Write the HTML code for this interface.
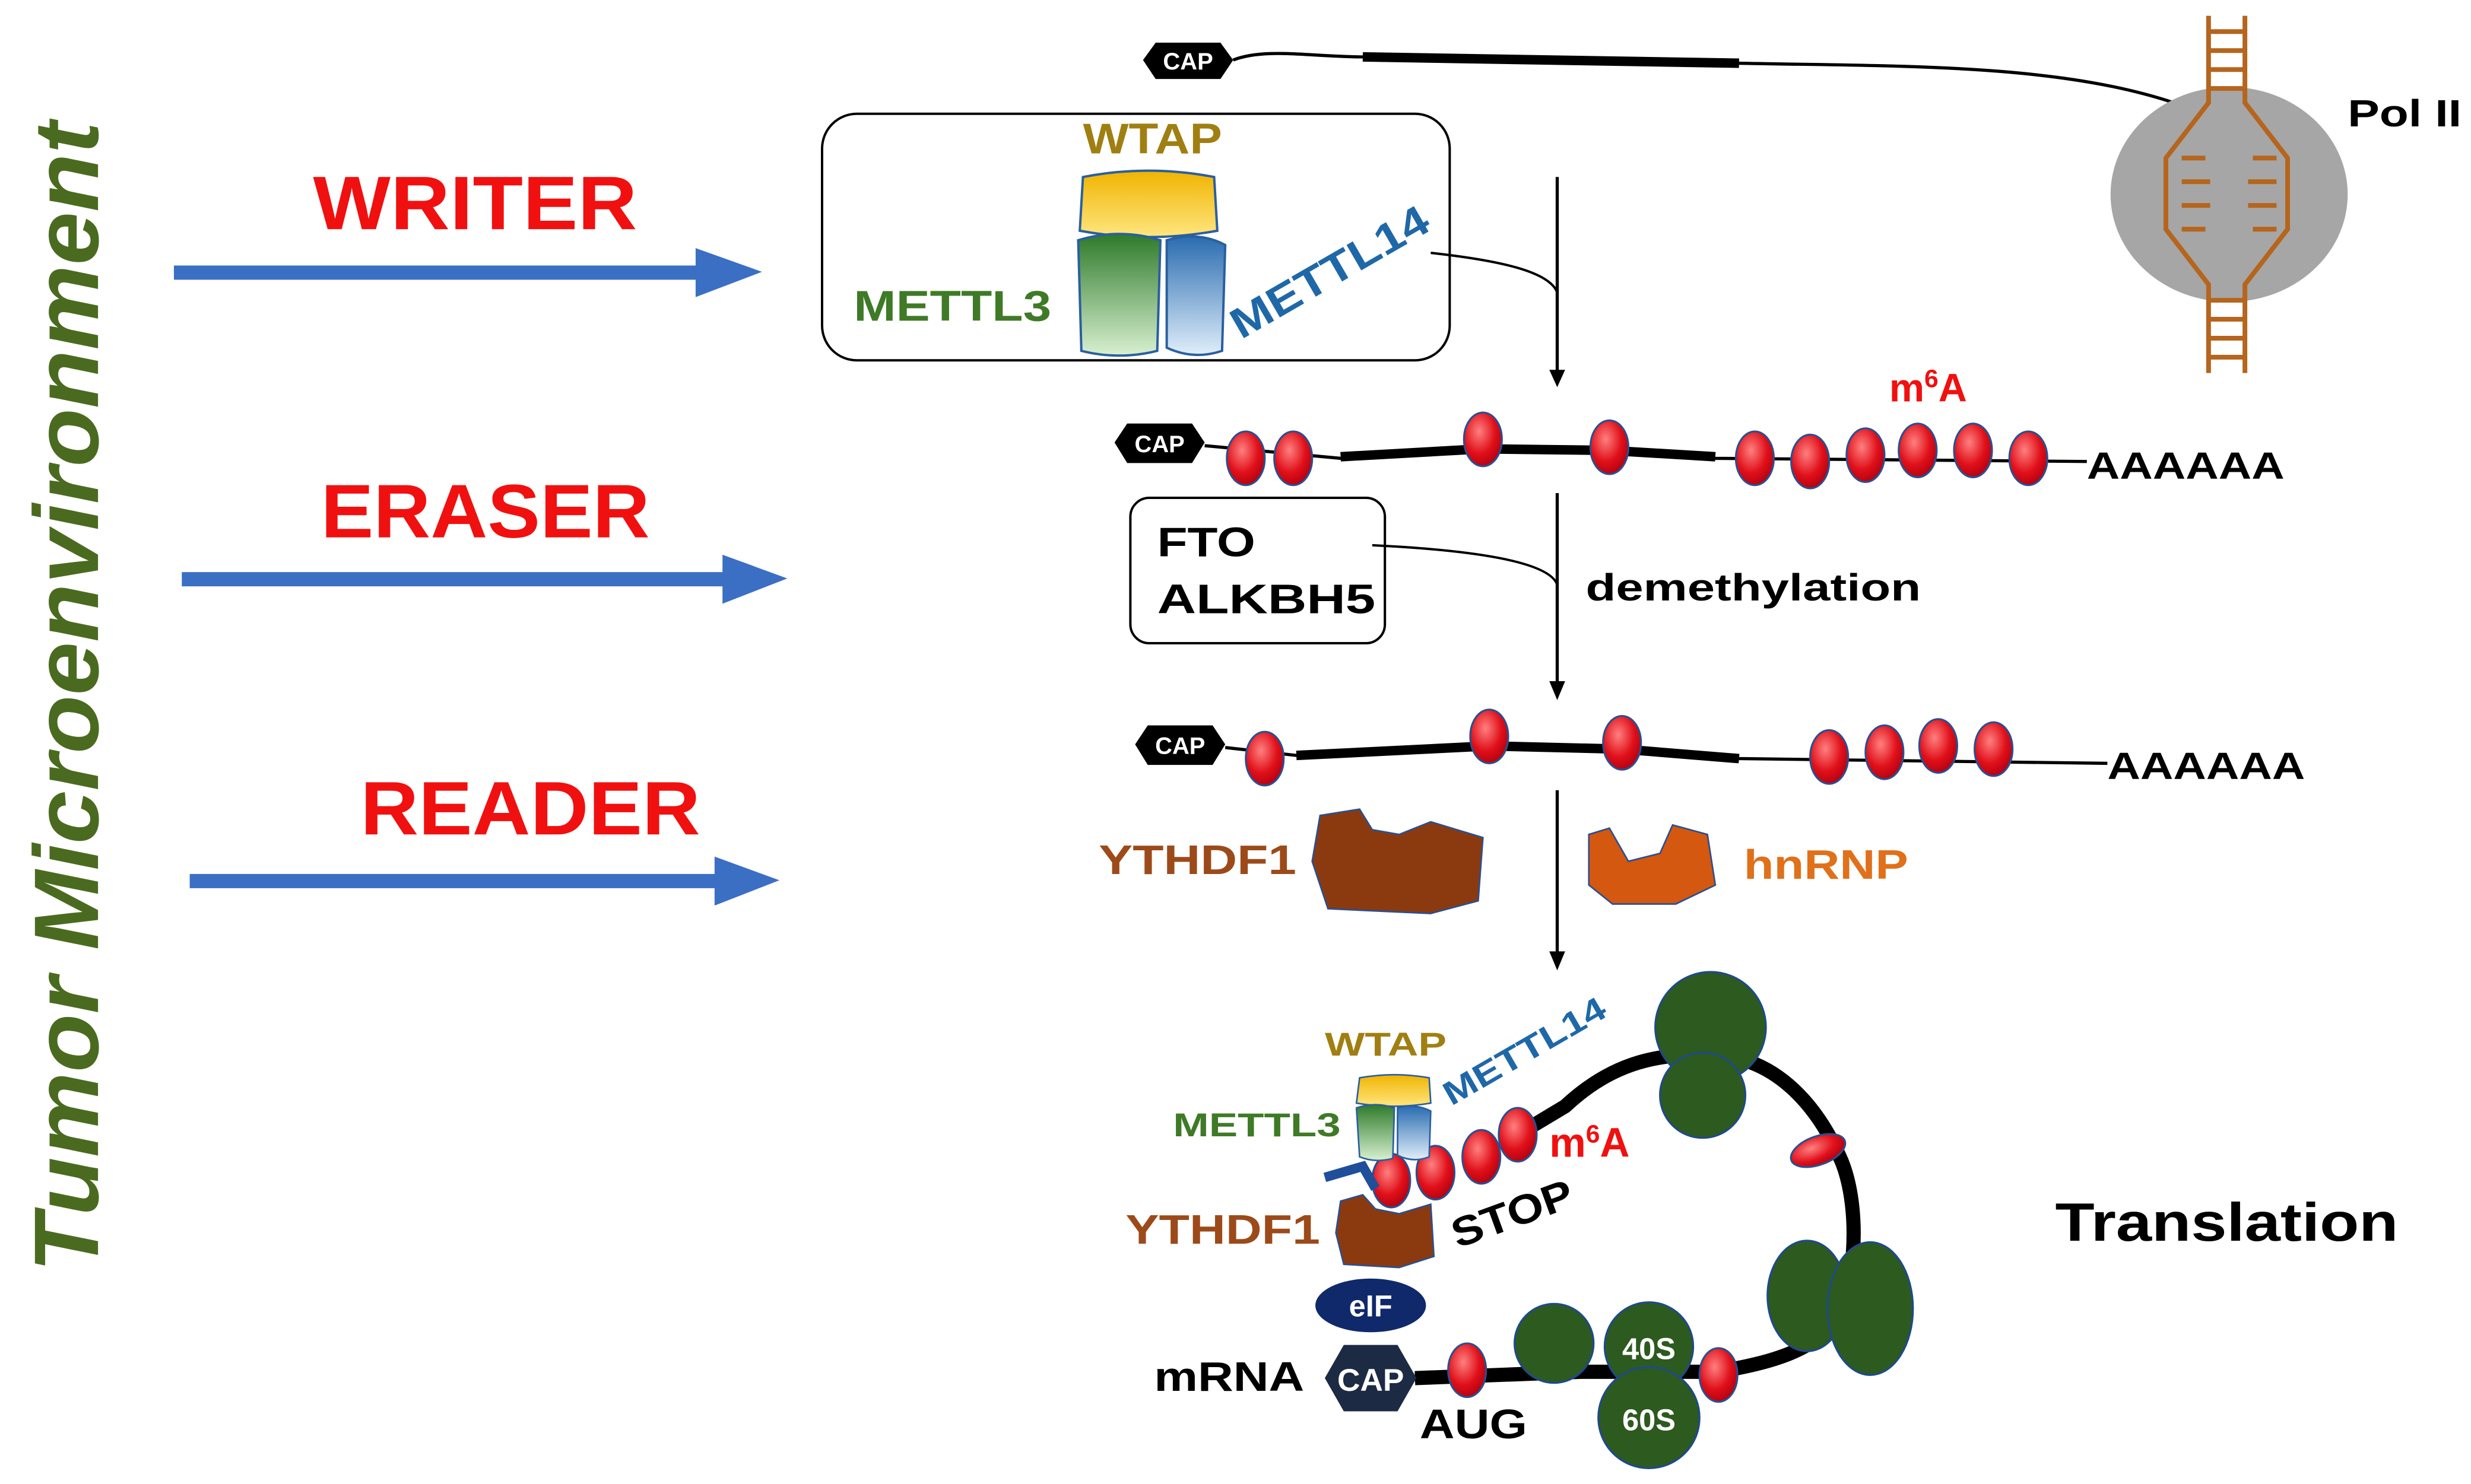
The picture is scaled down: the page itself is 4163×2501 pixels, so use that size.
<!DOCTYPE html>
<html><head><meta charset="utf-8">
<style>
html,body{margin:0;padding:0;background:#fff;}
svg{display:block;}
text{font-family:"Liberation Sans",Arial,sans-serif;font-weight:bold;}
</style></head>
<body>
<svg width="4163" height="2501" viewBox="0 0 1563 939" xmlns="http://www.w3.org/2000/svg">
<defs>
<radialGradient id="bead" cx="40%" cy="35%" r="70%"><stop offset="0" stop-color="#ff8080"/><stop offset="0.6" stop-color="#e0101a"/><stop offset="1" stop-color="#b00010"/></radialGradient>
<linearGradient id="grn" x1="0" y1="0" x2="0" y2="1"><stop offset="0" stop-color="#2e7a2a"/><stop offset="1" stop-color="#d8f0d0"/></linearGradient>
<linearGradient id="blu" x1="0" y1="0" x2="0" y2="1"><stop offset="0" stop-color="#2a6cb0"/><stop offset="1" stop-color="#e0eefa"/></linearGradient>
<linearGradient id="yel" x1="0" y1="0" x2="0" y2="1"><stop offset="0" stop-color="#f0b400"/><stop offset="1" stop-color="#ffe680"/></linearGradient>
</defs>

<text transform="translate(62,805) rotate(-90)" font-size="58" font-style="italic" fill="#4a6b1f" textLength="728" lengthAdjust="spacingAndGlyphs">Tumor Microenvironment</text>

<text x="198" y="145" font-size="48" fill="#f01010" textLength="205" lengthAdjust="spacingAndGlyphs">WRITER</text>
<text x="203" y="340" font-size="48" fill="#f01010" textLength="208" lengthAdjust="spacingAndGlyphs">ERASER</text>
<text x="228" y="528" font-size="48" fill="#f01010" textLength="215" lengthAdjust="spacingAndGlyphs">READER</text>
<g fill="#3b6fc4">
<rect x="110" y="168" width="335" height="9"/><path d="M440,157 L482,172 L440,188Z"/>
<rect x="115" y="362" width="345" height="9"/><path d="M457,351 L498,366 L457,382Z"/>
<rect x="120" y="553" width="337" height="9"/><path d="M452,542 L493,557 L452,573Z"/>
</g>

<path d="M723,38 L731,27 L772,27 L780,38 L772,50 L731,50Z" fill="#000"/>
<text x="751.5" y="44" font-size="15" fill="#fff" text-anchor="middle">CAP</text>
<path d="M780,38 C800,30 830,36 862,36 L1100,40 C1200,42 1300,40 1375,65" fill="none" stroke="#000" stroke-width="2"/>
<path d="M862,36 L1100,40" stroke="#000" stroke-width="6"/>
<ellipse cx="1410" cy="123" rx="75" ry="68" fill="#a6a6a6"/>
<g stroke="#b5651d" stroke-width="3" fill="none">
<path d="M1397,10 L1397,65 L1370,100 L1370,145 L1397,180 L1397,236"/>
<path d="M1420,10 L1420,65 L1447,100 L1447,145 L1420,180 L1420,236"/>
<path d="M1397,20H1420M1397,32H1420M1397,44H1420M1397,56H1420M1397,190H1420M1397,202H1420M1397,214H1420M1397,226H1420"/>
<path d="M1380,100H1395M1380,115H1398M1380,130H1398M1380,145H1395M1425,100H1440M1422,115H1440M1422,130H1440M1425,145H1440"/>
</g>
<text x="1485" y="80" font-size="24" fill="#000" textLength="72" lengthAdjust="spacingAndGlyphs">Pol II</text>

<rect x="520" y="72" width="397" height="156" rx="22" fill="#fff" stroke="#000" stroke-width="1.5"/>
<text x="685" y="97" font-size="27" fill="#a07f12" textLength="88" lengthAdjust="spacingAndGlyphs">WTAP</text>
<path d="M685,112 Q726,104 768,112 L770,146 Q726,154 683,146Z" fill="url(#yel)" stroke="#2a5fa0" stroke-width="1.5"/>
<path d="M682,152 Q708,144 734,152 L732,222 Q708,228 684,222Z" fill="url(#grn)" stroke="#2a5fa0" stroke-width="1.5"/>
<path d="M738,152 Q758,146 775,155 L773,222 Q755,228 738,220Z" fill="url(#blu)" stroke="#2a5fa0" stroke-width="1.5"/>
<text x="540" y="203" font-size="27" fill="#3f7a27" textLength="125" lengthAdjust="spacingAndGlyphs">METTL3</text>
<text transform="translate(785,215) rotate(-30)" font-size="27" fill="#1f68a8" textLength="140" lengthAdjust="spacingAndGlyphs">METTL14</text>
<path d="M905,160 C950,165 980,172 985,185" fill="none" stroke="#000" stroke-width="1.5"/>
<line x1="985" y1="112" x2="985" y2="236" stroke="#000" stroke-width="2"/>
<path d="M980,234 L990,234 L985,245Z" fill="#000"/>

<path d="M705,280 L713,268 L754,268 L762,280 L754,293 L713,293Z" fill="#000"/>
<text x="733.5" y="286" font-size="15" fill="#fff" text-anchor="middle">CAP</text>
<path d="M762,282 L848,290 L938,285 L1018,286 L1085,290 L1320,292" fill="none" stroke="#000" stroke-width="2"/>
<path d="M848,289 L938,284 L1018,285 L1085,289" fill="none" stroke="#000" stroke-width="6"/>
<g fill="url(#bead)" stroke="#2a4f90" stroke-width="1.2">
<ellipse cx="788" cy="290" rx="12" ry="17"/><ellipse cx="818" cy="290" rx="12" ry="17"/>
<ellipse cx="938" cy="278" rx="12" ry="17"/><ellipse cx="1018" cy="283" rx="12" ry="17"/>
<ellipse cx="1110" cy="290" rx="12" ry="17"/><ellipse cx="1145" cy="292" rx="12" ry="17"/>
<ellipse cx="1180" cy="288" rx="12" ry="17"/><ellipse cx="1213" cy="285" rx="12" ry="17"/>
<ellipse cx="1248" cy="285" rx="12" ry="17"/><ellipse cx="1283" cy="290" rx="12" ry="17"/>
</g>
<text x="1195" y="254" font-size="25" fill="#f01010">m<tspan font-size="16" dy="-9">6</tspan><tspan dy="9">A</tspan></text>
<text x="1320" y="303" font-size="24" fill="#000" textLength="125" lengthAdjust="spacingAndGlyphs">AAAAAA</text>

<rect x="715" y="315" width="161" height="92" rx="12" fill="#fff" stroke="#000" stroke-width="1.5"/>
<text x="732" y="352" font-size="26" fill="#000" textLength="62" lengthAdjust="spacingAndGlyphs">FTO</text>
<text x="732" y="388" font-size="26" fill="#000" textLength="138" lengthAdjust="spacingAndGlyphs">ALKBH5</text>
<path d="M868,345 C930,348 980,355 985,370" fill="none" stroke="#000" stroke-width="1.5"/>
<line x1="985" y1="312" x2="985" y2="433" stroke="#000" stroke-width="2"/>
<path d="M980,431 L990,431 L985,443Z" fill="#000"/>
<text x="1003" y="380" font-size="24" fill="#000" textLength="212" lengthAdjust="spacingAndGlyphs">demethylation</text>

<path d="M718,471 L726,459 L767,459 L775,471 L767,484 L726,484Z" fill="#000"/>
<text x="746.5" y="477" font-size="15" fill="#fff" text-anchor="middle">CAP</text>
<path d="M775,473 L820,478 L942,472 L1026,474 L1100,480 L1333,483" fill="none" stroke="#000" stroke-width="2"/>
<path d="M820,478 L942,472 L1026,474 L1100,480" fill="none" stroke="#000" stroke-width="6"/>
<g fill="url(#bead)" stroke="#2a4f90" stroke-width="1.2">
<ellipse cx="800" cy="480" rx="12" ry="17"/><ellipse cx="942" cy="466" rx="12" ry="17"/>
<ellipse cx="1026" cy="470" rx="12" ry="17"/><ellipse cx="1157" cy="479" rx="12" ry="17"/>
<ellipse cx="1192" cy="476" rx="12" ry="17"/><ellipse cx="1226" cy="472" rx="12" ry="17"/>
<ellipse cx="1261" cy="474" rx="12" ry="17"/>
</g>
<text x="1333" y="493" font-size="24" fill="#000" textLength="125" lengthAdjust="spacingAndGlyphs">AAAAAA</text>

<text x="695" y="553" font-size="26" fill="#9c4a1a" textLength="125" lengthAdjust="spacingAndGlyphs">YTHDF1</text>
<path d="M835,516 L860,512 L868,525 L885,528 L905,520 L938,530 L935,570 L905,578 L840,575 L830,545Z" fill="#8b3a0f" stroke="#2a4f90" stroke-width="1"/>
<path d="M1005,528 L1018,524 L1030,545 L1050,540 L1058,522 L1080,528 L1085,560 L1060,572 L1020,572 L1005,560Z" fill="#d4580f" stroke="#2a4f90" stroke-width="1"/>
<text x="1103" y="556" font-size="26" fill="#e0701a" textLength="104" lengthAdjust="spacingAndGlyphs">hnRNP</text>
<line x1="985" y1="500" x2="985" y2="604" stroke="#000" stroke-width="2"/>
<path d="M980,602 L990,602 L985,614Z" fill="#000"/>

<path d="M895,872 L1000,868 L1087,868 C1120,862 1150,855 1165,830 C1175,800 1175,760 1165,735 C1150,700 1125,672 1090,668 C1050,665 1020,672 990,700 L960,718" fill="none" stroke="#000" stroke-width="9" stroke-linejoin="round"/>
<g fill="#2d5a1f" stroke="#1e4a8a" stroke-width="1.2">
<circle cx="1082" cy="650" r="35"/><circle cx="1077" cy="693" r="27"/>
<ellipse cx="1143" cy="820" rx="25" ry="35"/><ellipse cx="1183" cy="828" rx="27" ry="42"/>
<circle cx="983" cy="850" r="25"/><circle cx="1043" cy="852" r="28"/><circle cx="1043" cy="897" r="32"/>
</g>
<text x="1043" y="860" font-size="19" fill="#fff" text-anchor="middle">40S</text>
<text x="1043" y="905" font-size="19" fill="#fff" text-anchor="middle">60S</text>
<g fill="url(#bead)" stroke="#2a4f90" stroke-width="1.2">
<ellipse cx="880" cy="747" rx="12" ry="17"/><ellipse cx="908" cy="742" rx="12" ry="17"/>
<ellipse cx="937" cy="732" rx="12" ry="17"/><ellipse cx="960" cy="718" rx="12" ry="17"/>
<ellipse cx="1150" cy="728" rx="18" ry="9" transform="rotate(-20 1150 728)"/>
<ellipse cx="1087" cy="870" rx="12" ry="17"/><ellipse cx="928" cy="867" rx="12" ry="17"/>
</g>
<path d="M838,745 L862,738 L870,752" fill="none" stroke="#1f4f9a" stroke-width="6"/>
<ellipse cx="867" cy="826" rx="35" ry="17" fill="#10296a"/>
<text x="867" y="833" font-size="19" fill="#fff" text-anchor="middle">eIF</text>
<path d="M838,872 L850,851 L884,851 L896,872 L884,893 L850,893Z" fill="#1c2a44"/>
<text x="867" y="880" font-size="20" fill="#fff" text-anchor="middle">CAP</text>
<text x="730" y="880" font-size="26" fill="#000" textLength="95" lengthAdjust="spacingAndGlyphs">mRNA</text>
<text x="898" y="910" font-size="26" fill="#000" textLength="68" lengthAdjust="spacingAndGlyphs">AUG</text>
<text transform="translate(922,790) rotate(-20)" font-size="26" fill="#000" textLength="80" lengthAdjust="spacingAndGlyphs">STOP</text>
<text x="980" y="732" font-size="26" fill="#f01010">m<tspan font-size="16" dy="-9">6</tspan><tspan dy="9">A</tspan></text>
<text x="712" y="787" font-size="26" fill="#9c4a1a" textLength="123" lengthAdjust="spacingAndGlyphs">YTHDF1</text>
<path d="M848,760 L862,756 L870,765 L885,768 L905,762 L907,795 L885,802 L850,800 L845,780Z" fill="#8b3a0f" stroke="#2a4f90" stroke-width="1"/>
<text x="742" y="719" font-size="21" fill="#3f7a27" textLength="106" lengthAdjust="spacingAndGlyphs">METTL3</text>
<text x="838" y="668" font-size="21" fill="#a07f12" textLength="77" lengthAdjust="spacingAndGlyphs">WTAP</text>
<text transform="translate(918,700) rotate(-30)" font-size="21" fill="#1f68a8" textLength="115" lengthAdjust="spacingAndGlyphs">METTL14</text>
<path d="M860,682 Q882,678 904,682 L905,698 Q882,702 858,698Z" fill="url(#yel)" stroke="#2a5fa0" stroke-width="1"/>
<path d="M858,701 Q870,697 882,701 L881,733 Q870,736 860,732Z" fill="url(#grn)" stroke="#2a5fa0" stroke-width="1"/>
<path d="M884,701 Q895,698 905,703 L904,732 Q894,736 884,731Z" fill="url(#blu)" stroke="#2a5fa0" stroke-width="1"/>
<text x="1300" y="785" font-size="34" fill="#000" textLength="217" lengthAdjust="spacingAndGlyphs">Translation</text>
</svg>
</body></html>
